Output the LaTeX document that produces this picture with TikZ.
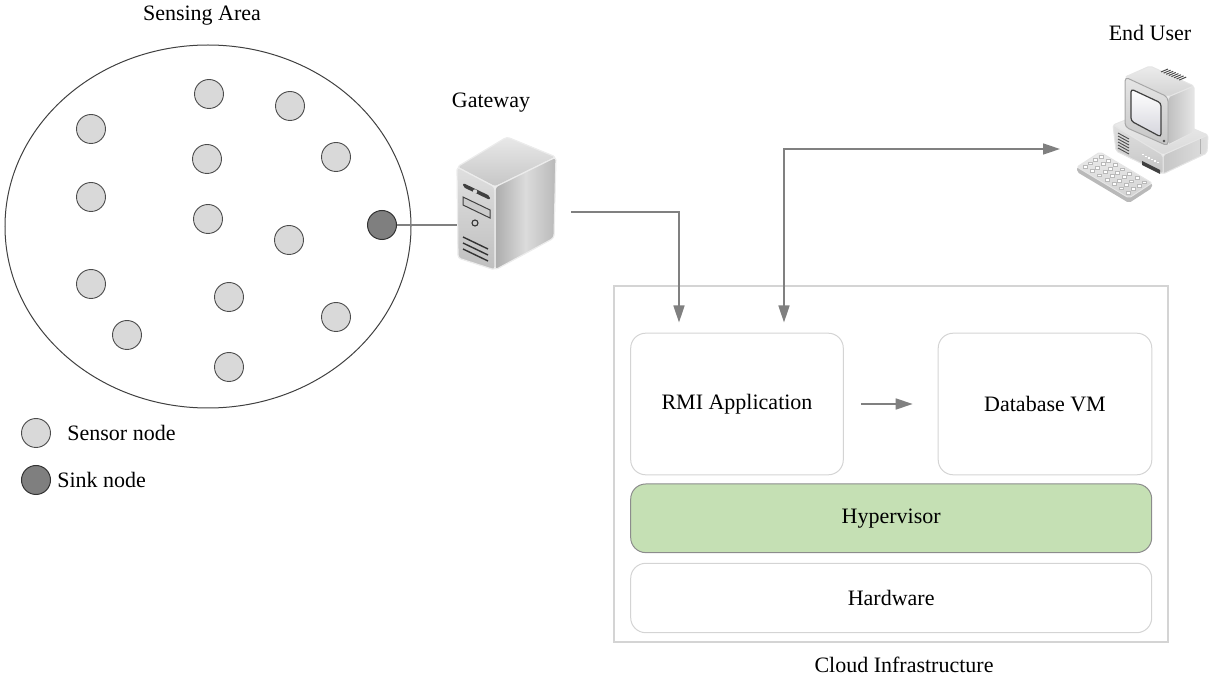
\documentclass[tikz,border=0pt]{standalone}
\usepackage{fontspec}
\setmainfont{Liberation Serif}
\newfontfamily\labelfont{Liberation Serif}
\usetikzlibrary{arrows.meta,shapes.geometric}
\definecolor{arrowgray}{HTML}{808080}
\definecolor{sensorfill}{HTML}{D9D9D9}
\definecolor{sinkfill}{HTML}{7F7F7F}
\definecolor{boxline}{HTML}{D4D4D4}
\definecolor{hyperfill}{HTML}{C5E0B4}
\definecolor{hyperline}{HTML}{8C8C8C}
\begin{document}
\begin{tikzpicture}[x=0.5pt,y=-0.5pt,
  lbl/.style={font=\labelfont\fontsize{11}{13}\selectfont, inner sep=0pt},
  sensor/.style={circle, draw=black!70, line width=0.45pt, fill=sensorfill, minimum size=14.5pt, inner sep=0pt},
  sink/.style={circle, draw=black!80, line width=0.5pt, fill=sinkfill, minimum size=14.5pt, inner sep=0pt},
  flow/.style={draw=arrowgray, line width=0.8pt, -{Triangle[length=8.5pt,width=5.5pt]}},
  flowboth/.style={draw=arrowgray, line width=0.8pt, {Triangle[length=8.5pt,width=5.5pt]}-{Triangle[length=8.5pt,width=5.5pt]}},
  link/.style={draw=arrowgray, line width=0.8pt},
  vmbox/.style={draw=boxline, line width=0.5pt, rounded corners=7.5pt, fill=white, font=\labelfont\fontsize{11}{13}\selectfont},
]
\useasboundingbox (0,0) rectangle (1212,679);

% ---------------- sensing area ----------------
\node[lbl] (areaTitle) at (202,16) {Sensing Area};
\node[ellipse, draw=black!75, line width=0.5pt, minimum width=203pt, minimum height=181.5pt, inner sep=0pt] (area) at (208,226.5) {};

\node[sensor] (s1)  at (209,94)  {};
\node[sensor] (s2)  at (290,106) {};
\node[sensor] (s3)  at (91,129)  {};
\node[sensor] (s4)  at (207,159) {};
\node[sensor] (s5)  at (336,157) {};
\node[sensor] (s6)  at (91,197)  {};
\node[sensor] (s7)  at (208,219) {};
\node[sensor] (s8)  at (289,240) {};
\node[sensor] (s9)  at (91,284)  {};
\node[sensor] (s10) at (229,297) {};
\node[sensor] (s11) at (336,317) {};
\node[sensor] (s12) at (127,335) {};
\node[sensor] (s13) at (229,367) {};
\node[sink]   (sink) at (382,225) {};

% legend
\node[sensor] (legSensor) at (36,433) {};
\node[lbl, anchor=west] (legSensorTxt) at (67,433) {Sensor node};
\node[sink] (legSink) at (36,480) {};
\node[lbl, anchor=west] (legSinkTxt) at (57,480) {Sink node};

% ---------------- gateway server ----------------
\node[lbl] (gwTitle) at (491,103) {Gateway};
% top face
\shade[top color=gray!18, bottom color=gray!45, draw=white!85!gray, line width=0.6pt, rounded corners=1.5pt]
  (457,167) -- (507,137) -- (556,157) -- (495,187) -- cycle;
% side face
\shade[left color=gray!65, right color=gray!55, middle color=gray!28, draw=white!85!gray, line width=0.6pt, rounded corners=1.5pt]
  (495,187) -- (556,157) -- (554,238) -- (495,270) -- cycle;
% front face
\shade[top color=gray!25, bottom color=gray!50, draw=white!85!gray, line width=0.6pt, rounded corners=1.5pt]
  (457,167) -- (495,187) -- (495,270) -- (458,258) -- cycle;
% front panel details
\fill[black!75, rounded corners=1pt] (463,183) -- (490,196) -- (490,200) -- (463,187) -- cycle;
\fill[gray!30] (475,191.5) circle[radius=2.2];
\draw[black!75, line width=0.5pt, fill=gray!40] (463,197) -- (490,210) -- (490,218) -- (463,205) -- cycle;
\draw[black!80, line width=0.55pt] (475,223) circle[radius=3];
\foreach \dy in {0,6,12}
  \draw[black!80, line width=0.7pt] (463,237+\dy) -- (488,249+\dy);
\coordinate (gwIn) at (457,225);
\coordinate (gwOut) at (571,212);

% ---------------- end user computer ----------------
\node[lbl] (userTitle) at (1150,33) {End User};
% base unit
\shade[top color=gray!12, bottom color=gray!30, draw=white!80!gray, line width=0.5pt, rounded corners=1pt]
  (1113,125) -- (1150,110) -- (1208,135) -- (1163,155) -- cycle;
\shade[left color=gray!45, right color=gray!25, draw=white!80!gray, line width=0.5pt, rounded corners=1pt]
  (1163,155) -- (1208,135) -- (1207,153) -- (1163,174) -- cycle;
\shade[top color=gray!25, bottom color=gray!45, draw=white!80!gray, line width=0.5pt, rounded corners=1pt]
  (1113,125) -- (1163,155) -- (1163,174) -- (1116,151) -- cycle;
\foreach \dy in {0,3,6,9,12,15}
  \draw[black!70, line width=0.45pt] (1118,133+\dy) -- (1129,139+\dy);
\foreach \k in {0,1,2,3,4,5}
  \fill[white] (1142+\k*3,154+\k*1.6) rectangle +(1.6,1.4);
\fill[black!75] (1142,161) -- (1160,170) -- (1160,174) -- (1142,165) -- cycle;
\foreach \dy in {0,3,6,9}
  \draw[gray!60, line width=0.4pt] (1200,139+\dy) -- (1200,145+\dy);
% monitor housing
\shade[top color=gray!15, bottom color=gray!35, draw=white!80!gray, line width=0.5pt, rounded corners=1pt]
  (1125,77) -- (1150,66) -- (1194,86) -- (1168,97) -- cycle;
\foreach \k in {0,...,7}
  \draw[black!70, line width=0.5pt] (1161+\k*2.6,72+\k*1.15) -- (1168+\k*2.6,69+\k*1.15);
\shade[left color=gray!50, right color=gray!20, draw=white!80!gray, line width=0.5pt, rounded corners=1pt]
  (1168,97) -- (1194,86) -- (1194,132) -- (1168,145) -- cycle;
% monitor bezel and screen
\shade[top color=gray!20, bottom color=gray!45, draw=gray!70, line width=0.5pt, rounded corners=2pt]
  (1125,77) -- (1168,97) -- (1168,146) -- (1125,127) -- cycle;
\shade[top color=white, bottom color=blue!10!gray!30, draw=black!75, line width=0.6pt, rounded corners=1.5pt]
  (1131,89) -- (1161,103) -- (1161,137) -- (1131,121) -- cycle;
\fill[black!70] (1164,141) circle[radius=1.3];
% keyboard
\fill[gray!55, rounded corners=1pt]
  (1077,167) -- (1077,172) -- (1129,203) -- (1152,188) -- (1152,183) -- (1129,198) -- cycle;
\shade[top color=gray!15, bottom color=gray!35, draw=white!80!gray, line width=0.5pt, rounded corners=1pt]
  (1077,167) -- (1100,152) -- (1152,183) -- (1129,198) -- cycle;
\foreach \i in {0,...,6}
  \foreach \j in {0,...,3} {
    \pgfmathsetmacro\kx{1100+(\i+0.55)*52/7.2-(\j+0.6)*23/4.4}
    \pgfmathsetmacro\ky{152+(\i+0.55)*31/7.2+(\j+0.6)*15/4.4}
    \fill[white, draw=gray!55, line width=0.25pt] (\kx-2,\ky-1.4) rectangle (\kx+2,\ky+1.4);
  }
\coordinate (userIn) at (1060,149);

% ---------------- cloud infrastructure ----------------
\draw[draw=boxline, line width=0.6pt] (614,286) rectangle (1168,642);
\node[lbl] (cloudTitle) at (904,665) {Cloud Infrastructure};

\node[vmbox, minimum width=106.3pt, minimum height=70.8pt] (rmi) at (737,404) {RMI Application};
\node[vmbox, minimum width=106.8pt, minimum height=70.8pt] (db) at (1045,404) {Database VM};
\node[vmbox, draw=hyperline, fill=hyperfill, minimum width=260.5pt, minimum height=34.3pt] (hyp) at (891.2,518.3) {Hypervisor};
\node[vmbox, minimum width=260.5pt, minimum height=34.7pt] (hw) at (891.2,598) {Hardware};

\coordinate (rmiInA) at (679,322.5);
\coordinate (rmiInB) at (784,322.5);

% ---------------- connectors ----------------
\draw[link] (sink.east) -- (gwIn);
\draw[flow] (gwOut) -| (rmiInA);
\draw[flowboth] (rmiInB) |- (userIn);
\draw[flow, shorten <=8.5pt, shorten >=12.5pt] (rmi.east) -- (db.west);
\end{tikzpicture}
\end{document}
